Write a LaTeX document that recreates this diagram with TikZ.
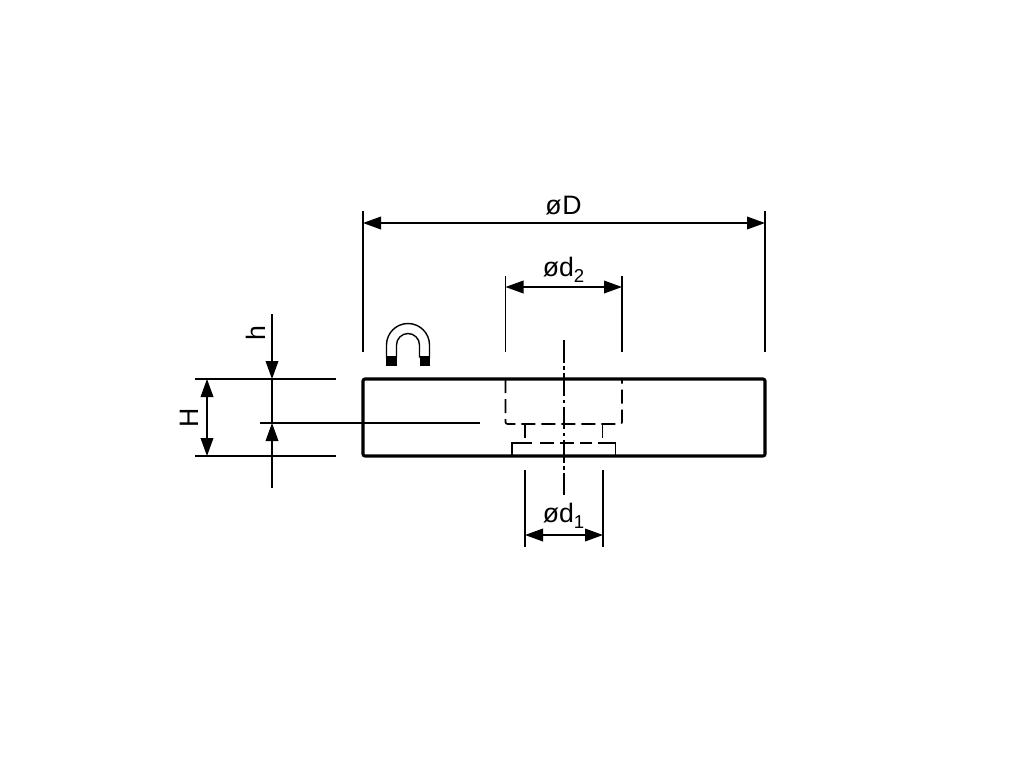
\documentclass[tikz,border=0pt]{standalone}
\usepackage{fontspec}
\setmainfont{Liberation Sans}
\usetikzlibrary{arrows.meta,calc,positioning}
\newcommand{\subdigit}[1]{\raisebox{-0.22em}{\fontsize{14}{14}\selectfont #1}}

\begin{document}
\begin{tikzpicture}[
x=0.75pt, y=-0.75pt,
thinline/.style={draw=black, line width=1.05pt},
bodyline/.style={draw=black, line width=2.3pt, rounded corners=1.5pt},
hiddenline/.style={draw=black, line width=1.25pt, dash pattern=on 10.5pt off 4.5pt},
centerline/.style={draw=black, line width=1.2pt, dash pattern=on 17pt off 2.8pt on 2.4pt off 2.8pt},
dimline/.style={thinline, {Triangle[length=13.5pt,width=9.5pt]}-{Triangle[length=13.5pt,width=9.5pt]}},
tipline/.style={thinline, -{Triangle[length=13.5pt,width=9.5pt]}},
dimlabel/.style={inner sep=0pt, font=\fontsize{20}{20}\selectfont},
]
\useasboundingbox (0,0) rectangle (1024,768);
\fill[white] (0,0) rectangle (1024,768);

%Nodes
\node[dimlabel]                (labelD)  at (563.5,205.5) {ø\kern0.03em D};
\node[dimlabel]                (labeldt) at (563.5,269.5) {ød\subdigit{2}};
\node[dimlabel]                (labeldo) at (563.5,515.5) {ød\subdigit{1}};
\node[dimlabel, rotate=90]     (labelH)  at (189.5,417.5) {H};
\node[dimlabel, rotate=90]     (labelh)  at (256,333) {h};

%Body
\draw[bodyline] (363,379) rectangle (765,456);

%Bore
\coordinate (boreL) at (505.5,379);
\coordinate (boreR) at (622,379);
\draw[hiddenline, rounded corners=1.5pt] (boreL) -- (505.5,424) -- (622,424) -- (boreR);
\draw[hiddenline] (525,424) -- (525,443);
\draw[hiddenline] (602.5,424) -- (602.5,443);
\draw[thinline] (532,443) -- (512,443) -- (512,456);
\draw[thinline] (598,443) -- (615.5,443) -- (615.5,456);
\draw[hiddenline] (540,443) -- (592,443);

%Centre
\coordinate (axisT) at (564,340);
\coordinate (axisB) at (564,495);
\draw[centerline] (axisT) -- (axisB);

%Magnet
\draw[thinline, fill=white] (386.5,357) -- (386.5,345) arc (180:360:21.5) -- (429.5,357) -- (419.5,357) -- (419.5,345) arc (360:180:11.5) -- (396.5,357) -- cycle;
\fill (386,356) rectangle (397,366);
\fill (420,356) rectangle (430,366);

%Extension lines
\draw[thinline] (363,211) -- (363,352);
\draw[thinline] (765,211) -- (765,352);
\draw[thinline] (505.5,276) -- (505.5,352);
\draw[thinline] (622,276) -- (622,352);
\draw[thinline] (525,470) -- (525,547);
\draw[thinline] (603,470) -- (603,547);
\draw[thinline] (195,379) -- (336,379);
\draw[thinline] (195,456) -- (336,456);
\draw[thinline] (260,423) -- (480,423);

%Dimensions
\draw[dimline] (363,223) -- (765,223);
\draw[dimline] (505.5,287) -- (622,287);
\draw[dimline] (525,535) -- (603,535);
\draw[dimline] (207,379) -- (207,456);
\draw[tipline] (272,314) -- (272,379);
\draw[thinline] (272,379) -- (272,423);
\draw[tipline] (272,488) -- (272,423);
\end{tikzpicture}
\end{document}
